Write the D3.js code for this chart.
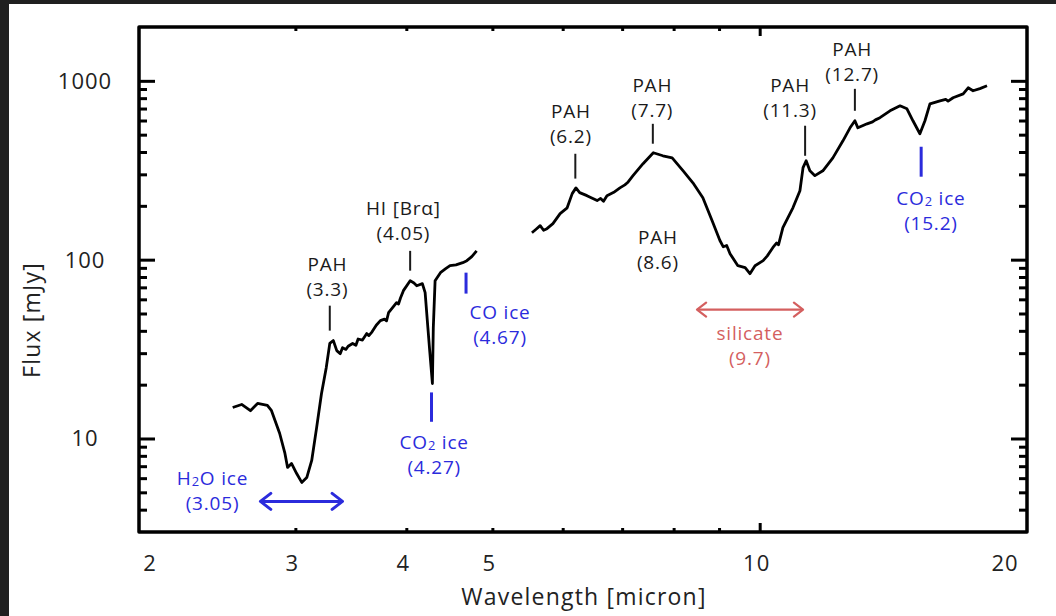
<!DOCTYPE html>
<html>
<head>
<meta charset="utf-8">
<script src="https://cdn.jsdelivr.net/npm/d3@7"></script>
<style>
  html, body { margin: 0; padding: 0; background: #202020; }
  svg { display: block; }
  text { font-family: "Open Sans", "DejaVu Sans", sans-serif; }
</style>
</head>
<body>
<svg id="chart" width="1056" height="616"></svg>
<script>
// short-wavelength spectrum (2.5 - 4.8 micron)
var wlShort = [2.55, 2.61, 2.67, 2.72, 2.79, 2.82, 2.88, 2.92, 2.94, 2.97, 3.01, 3.05, 3.09, 3.13, 3.17, 3.21, 3.25, 3.28,
  3.31, 3.34, 3.37, 3.39, 3.42, 3.44, 3.48, 3.51, 3.53, 3.57, 3.61, 3.63, 3.66, 3.70, 3.74, 3.78, 3.80, 3.82, 3.86, 3.90,
  3.92, 3.94, 3.97, 4.04, 4.08, 4.11, 4.17, 4.20, 4.23, 4.25, 4.28, 4.29, 4.31, 4.37, 4.43, 4.48, 4.55, 4.63, 4.68, 4.74, 4.80];
var fluxShort = [14.9, 15.5, 14.3, 15.7, 15.3, 14.3, 10.7, 8.25, 6.89, 7.25, 6.37, 5.68, 6.05, 7.54, 11.5, 17.8, 24.9, 34.0,
  35.3, 31.0, 29.8, 32.2, 31.5, 32.8, 34.0, 33.2, 36.0, 35.5, 38.6, 37.6, 39.5, 43.0, 45.6, 46.5, 45.5, 50.5, 53.9, 57.5,
  56.5, 61.0, 67.1, 76.3, 74.0, 71.5, 73.4, 65.4, 41.7, 31.0, 20.3, 41.7, 76.3, 84.6, 89.0, 92.5, 93.5, 96.2, 98.7, 104, 112];

// long-wavelength spectrum (5.5 - 18 micron)
var wlLong = [5.54, 5.60, 5.66, 5.71, 5.76, 5.85, 5.96, 6.07, 6.15, 6.21, 6.27, 6.39, 6.56, 6.62, 6.67, 6.73, 6.85, 6.96,
  7.05, 7.10, 7.20, 7.39, 7.59, 7.78, 7.97, 8.20, 8.41, 8.63, 8.84, 9.02, 9.10, 9.18, 9.26, 9.45, 9.63, 9.75, 9.88, 10.09,
  10.20, 10.35, 10.45, 10.50, 10.62, 10.90, 11.10, 11.19, 11.28, 11.39, 11.54, 11.78, 12.09, 12.41, 12.64, 12.80, 12.90,
  13.21, 13.40, 13.50, 13.66, 14.02, 14.39, 14.65, 14.88, 15.15, 15.35, 15.55, 15.96, 16.20, 16.30, 16.51, 16.95, 17.17,
  17.39, 17.70, 18.03];
var fluxLong = [141.5, 148, 155, 146, 149, 159, 181, 195, 234, 252, 237, 228, 214, 220, 212, 228, 238, 252,
  262, 270, 295, 344, 396, 381, 371, 314, 269, 222, 165, 128, 118, 120, 108, 92.5, 90.2, 83.5, 92.5, 98.7,
  105, 117, 124, 121, 151, 195, 243, 327, 357, 314, 295, 314, 371, 462, 546, 598, 546,
  575, 590, 605, 622, 680, 725, 698, 598, 506, 598, 744, 773, 788, 770, 804, 846, 914,
  880, 905, 938];

var xTickLabels = [2, 3, 4, 5, 10, 20];
var xMinorTicks = [3, 4, 5, 6, 7, 8, 9];
var xMajorTicks = [10];
var yTickLabels = [10, 100, 1000];
var yMinorTicks = [4, 5, 6, 7, 8, 9, 20, 30, 40, 50, 60, 70, 80, 90, 200, 300, 400, 500, 600, 700, 800, 900];

// feature annotations: lines of text, marker wavelength + flux span, label anchor (wavelength, flux)
var features = [
  {lines: ["PAH", "(3.3)"], colour: "black", wl: 3.28, f: [40.1, 55.3], at: [3.26, 95]},
  {lines: ["HI [Brα]", "(4.05)"], colour: "black", wl: 4.04, f: [86.8, 112], at: [3.97, 195]},
  {lines: ["PAH", "(6.2)"], colour: "black", wl: 6.2, f: [284, 391], at: [6.13, 680]},
  {lines: ["PAH", "(7.7)"], colour: "black", wl: 7.58, f: [445, 575], at: [7.57, 950]},
  {lines: ["PAH", "(8.6)"], colour: "black", wl: null, f: null, at: [7.68, 134]},
  {lines: ["PAH", "(11.3)"], colour: "black", wl: 11.25, f: [381, 561], at: [10.82, 950]},
  {lines: ["PAH", "(12.7)"], colour: "black", wl: 12.8, f: [680, 902], at: [12.71, 1510]},
  {lines: ["CO ice", "(4.67)"], colour: "blue", wl: 4.67, f: [64.6, 84.6], at: [5.10, 51.2]},
  {lines: ["CO2 ice", "(4.27)"], colour: "blue", wl: 4.27, f: [12.4, 18.1], at: [4.30, 9.5]},
  {lines: ["CO2 ice", "(15.2)"], colour: "blue", wl: 15.2, f: [291, 428], at: [15.59, 222]},
  {lines: ["H2O ice", "(3.05)"], colour: "blue", wl: null, f: null, at: [2.42, 6.05]},
  {lines: ["silicate", "(9.7)"], colour: "red", wl: null, f: null, at: [9.75, 38.7]}
];
// double arrows: wavelength span at a flux level
var arrows = [
  {from: 2.74, to: 3.39, f: 4.45, colour: "blue"},
  {from: 8.50, to: 11.19, f: 52.6, colour: "red"}
];

var colours = {black: "#1a1a1a", blue: "#2b2bdc", red: "#d45f5f"};

var svg = d3.select("#chart");
svg.append("rect").attr("x", 9).attr("y", 4).attr("width", 1047).attr("height", 612).attr("fill", "#ffffff");

var x = d3.scaleLog().domain([2, 20]).range([139, 1027]);
var y = d3.scaleLog().domain([3, 2000]).range([532, 27]);

var g = svg.append("g");

function styleAxis(sel, w) {
  sel.select(".domain").remove();
  sel.selectAll("line").attr("stroke", "#000").attr("stroke-width", w);
}

// y ticks, left and right, pointing inwards
g.append("g").attr("transform", "translate(139,0)")
  .call(d3.axisLeft(y).tickValues(yMinorTicks).tickSize(-8).tickFormat(""))
  .call(styleAxis, 3);
g.append("g").attr("transform", "translate(139,0)")
  .call(d3.axisLeft(y).tickValues(yTickLabels).tickSize(-16).tickFormat(""))
  .call(styleAxis, 3);
g.append("g").attr("transform", "translate(1027,0)")
  .call(d3.axisRight(y).tickValues(yMinorTicks).tickSize(-8).tickFormat(""))
  .call(styleAxis, 3);
g.append("g").attr("transform", "translate(1027,0)")
  .call(d3.axisRight(y).tickValues(yTickLabels).tickSize(-16).tickFormat(""))
  .call(styleAxis, 3);

// x ticks, bottom and top
g.append("g").attr("transform", "translate(0,532)")
  .call(d3.axisBottom(x).tickValues(xMinorTicks).tickSize(-4).tickFormat(""))
  .call(styleAxis, 3);
g.append("g").attr("transform", "translate(0,532)")
  .call(d3.axisBottom(x).tickValues(xMajorTicks).tickSize(-9).tickFormat(""))
  .call(styleAxis, 3);
g.append("g").attr("transform", "translate(0,27)")
  .call(d3.axisTop(x).tickValues(xMinorTicks).tickSize(-4).tickFormat(""))
  .call(styleAxis, 3);
g.append("g").attr("transform", "translate(0,27)")
  .call(d3.axisTop(x).tickValues(xMajorTicks).tickSize(-9).tickFormat(""))
  .call(styleAxis, 3);

// frame
g.append("rect")
  .attr("x", x(2)).attr("y", y(2000))
  .attr("width", x(20) - x(2)).attr("height", y(3) - y(2000))
  .attr("fill", "none").attr("stroke", "#000").attr("stroke-width", 3.5)
  .attr("stroke-linejoin", "round");

// tick labels
g.selectAll(".xlab").data(xTickLabels).enter().append("text")
  .attr("x", function(d) { return x(d) + (d === 2 ? 11 : d === 20 ? -22 : -3); })
  .attr("y", 571)
  .attr("text-anchor", "middle")
  .attr("font-size", 22).attr("letter-spacing", 1).attr("fill", "#222")
  .text(function(d) { return d; });

g.selectAll(".ylab").data(yTickLabels).enter().append("text")
  .attr("x", 85)
  .attr("y", function(d) { return y(d) + 8; })
  .attr("text-anchor", "middle")
  .attr("font-size", 22).attr("letter-spacing", 1).attr("fill", "#222")
  .text(function(d) { return d; });

g.append("text")
  .attr("x", 584).attr("y", 605)
  .attr("text-anchor", "middle").attr("font-size", 23).attr("letter-spacing", 1.2).attr("fill", "#222")
  .text("Wavelength [micron]");
g.append("text")
  .attr("transform", "translate(40,320) rotate(-90)")
  .attr("text-anchor", "middle").attr("font-size", 23).attr("letter-spacing", 1.2).attr("fill", "#222")
  .text("Flux [mJy]");

// spectra
var line = d3.line().x(function(d) { return x(d[0]); }).y(function(d) { return y(d[1]); });
[[wlShort, fluxShort], [wlLong, fluxLong]].forEach(function(s) {
  g.append("path")
    .datum(d3.zip(s[0], s[1]))
    .attr("d", line)
    .attr("fill", "none").attr("stroke", "#000").attr("stroke-width", 2.8)
    .attr("stroke-linejoin", "round");
});

// feature markers
features.filter(function(d) { return d.wl !== null; }).forEach(function(d) {
  g.append("line")
    .attr("x1", x(d.wl)).attr("x2", x(d.wl))
    .attr("y1", y(d.f[0])).attr("y2", y(d.f[1]))
    .attr("stroke", colours[d.colour]).attr("stroke-width", d.colour === "blue" ? 3 : 2);
});

// labels
function addText(sel, str) {
  // render the "2" in CO2 / H2O as a small digit
  var m = str.match(/^(CO|H)2(.*)$/);
  if (!m) { sel.text(str); return; }
  sel.append("tspan").text(m[1]);
  sel.append("tspan").attr("font-size", "68%").attr("dy", 1).text("2");
  sel.append("tspan").attr("dy", -1).text(m[2]);
}
features.forEach(function(d) {
  d.lines.forEach(function(t, i) {
    var txt = g.append("text")
      .attr("x", x(d.at[0]))
      .attr("y", y(d.at[1]) + 7 + i * 25)
      .attr("text-anchor", "middle")
      .attr("font-size", 19)
      .attr("letter-spacing", 0.8)
      .attr("fill", colours[d.colour]);
    addText(txt, t);
  });
});

// double arrows
arrows.forEach(function(a) {
  var x0 = x(a.from), x1 = x(a.to), yy = y(a.f), h = a.colour === "blue" ? 8 : 7;
  var c = colours[a.colour], w = a.colour === "blue" ? 3 : 2.2;
  g.append("line").attr("x1", x0 + 1).attr("x2", x1 - 1).attr("y1", yy).attr("y2", yy)
    .attr("stroke", c).attr("stroke-width", w);
  g.append("path")
    .attr("d", "M" + (x0 + h * 1.3) + "," + (yy - h) + "L" + x0 + "," + yy + "L" + (x0 + h * 1.3) + "," + (yy + h) +
      "M" + (x1 - h * 1.3) + "," + (yy - h) + "L" + x1 + "," + yy + "L" + (x1 - h * 1.3) + "," + (yy + h))
    .attr("fill", "none").attr("stroke", c).attr("stroke-width", w)
    .attr("stroke-linejoin", "round").attr("stroke-linecap", "round");
});
</script>
</body>
</html>
